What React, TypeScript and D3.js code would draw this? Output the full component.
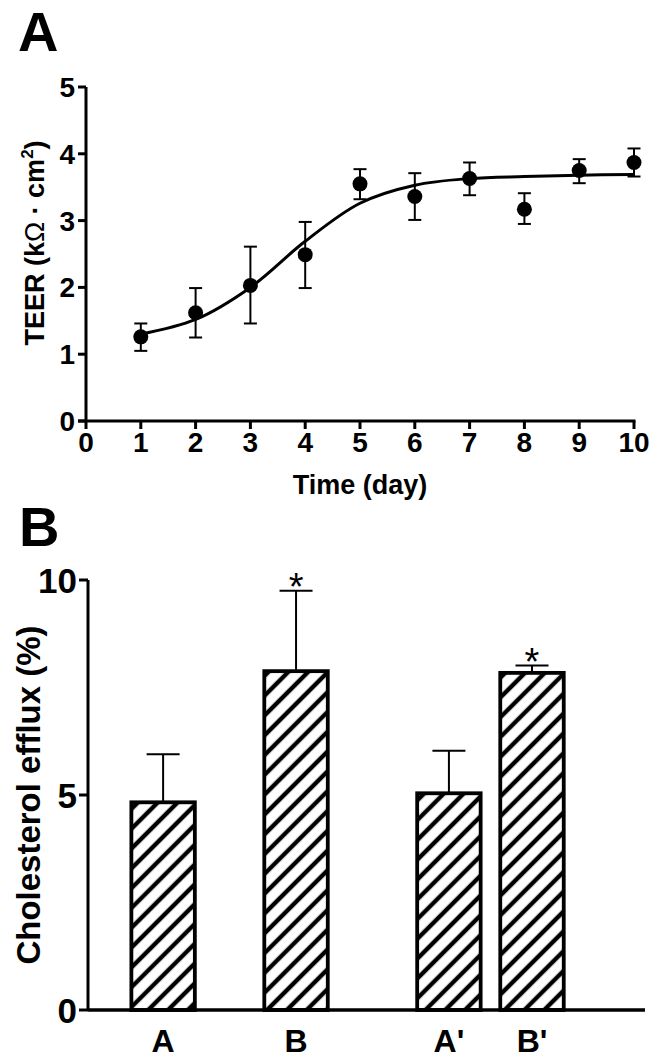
import React from "react";
import * as d3 from "d3";

// Panel A data
const days = [1, 2, 3, 4, 5, 6, 7, 8, 9, 10];
const teerMean = [1.26, 1.62, 2.03, 2.49, 3.55, 3.36, 3.63, 3.17, 3.75, 3.87];
const teerUpper = [1.46, 1.99, 2.61, 2.98, 3.77, 3.71, 3.87, 3.41, 3.92, 4.08];
const teerLower = [1.05, 1.25, 1.46, 1.99, 3.32, 3.01, 3.38, 2.95, 3.56, 3.66];
const fitValues = [1.3, 1.52, 2.0, 2.69, 3.26, 3.53, 3.63, 3.66, 3.68, 3.69];
const xTicksA = [0, 1, 2, 3, 4, 5, 6, 7, 8, 9, 10];
const yTicksA = [0, 1, 2, 3, 4, 5];

// Panel B data
const groups = ["A", "B", "A'", "B'"];
const groupPos = [1, 3, 5.3, 6.55];
const effluxMean = [4.83, 7.88, 5.04, 7.84];
const effluxErr = [1.12, 1.87, 0.99, 0.17];
const significant = [false, true, false, true];
const yTicksB = [0, 5, 10];

const FONT = "'Liberation Sans', Arial, Helvetica, sans-serif";

export default function App() {
  // Panel A scales
  const xA = d3.scaleLinear().domain([0, 10]).range([86, 634]);
  const yA = d3.scaleLinear().domain([0, 5]).range([421, 87]);
  const line = d3
    .line<number>()
    .x((_, i) => xA(days[i]))
    .y((d) => yA(d))
    .curve(d3.curveCatmullRom.alpha(0.5));

  // Panel B scales
  const xB = d3.scaleLinear().domain([-0.13, 8.25]).range([88, 645]);
  const yB = d3.scaleLinear().domain([0, 10]).range([1010, 580]);
  const barW = xB(1) - xB(0);

  const capA = 6.5;
  const capB = 16.5;

  return (
    <svg width={653} height={1060} style={{ position: "absolute", left: 0, top: 0, background: "#fff" }} fontFamily={FONT}>
      <defs>
        <pattern id="hatch" patternUnits="userSpaceOnUse" width={14} height={14} patternTransform="rotate(45)">
          <rect width={14} height={14} fill="#fff" />
          <line x1={7} y1={-2} x2={7} y2={16} stroke="#000" strokeWidth={4.4} />
        </pattern>
      </defs>

      {/* Panel A */}
      <text x={18} y={51} fontSize={56} fontWeight="bold">A</text>

      {/* y axis A */}
      <line x1={xA(0)} x2={xA(0)} y1={yA(0)} y2={yA(5)} stroke="#000" strokeWidth={3} />
      {yTicksA.map((t) => (
        <g key={"ya" + t}>
          <line x1={xA(0) - 8} x2={xA(0)} y1={yA(t)} y2={yA(t)} stroke="#000" strokeWidth={3} />
          <text x={xA(0) - 11} y={yA(t)} dy="0.36em" textAnchor="end" fontSize={28} fontWeight="bold">{t}</text>
        </g>
      ))}
      {/* x axis A */}
      <line x1={xA(0) - 8} x2={xA(10) + 1.5} y1={yA(0)} y2={yA(0)} stroke="#000" strokeWidth={3} />
      {xTicksA.map((t) => (
        <g key={"xa" + t}>
          <line x1={xA(t)} x2={xA(t)} y1={yA(0)} y2={yA(0) + 8} stroke="#000" strokeWidth={3} />
          <text x={xA(t)} y={452} textAnchor="middle" fontSize={28} fontWeight="bold">{t}</text>
        </g>
      ))}
      <text x={360} y={494} textAnchor="middle" fontSize={27} fontWeight="bold">Time (day)</text>
      <text transform={`translate(44,243) rotate(-90)`} textAnchor="middle" fontSize={27} fontWeight="bold">
        TEER (k<tspan fontWeight="normal">Ω</tspan> · cm<tspan fontSize={17} dy={-11}>2</tspan><tspan dy={11}>)</tspan>
      </text>

      {/* fit curve */}
      <path d={line(fitValues) || ""} fill="none" stroke="#000" strokeWidth={3} />
      {/* error bars and points */}
      {days.map((d, i) => (
        <g key={"pt" + d}>
          <line x1={xA(d)} x2={xA(d)} y1={yA(teerLower[i])} y2={yA(teerUpper[i])} stroke="#000" strokeWidth={2} />
          <line x1={xA(d) - capA} x2={xA(d) + capA} y1={yA(teerUpper[i])} y2={yA(teerUpper[i])} stroke="#000" strokeWidth={2} />
          <line x1={xA(d) - capA} x2={xA(d) + capA} y1={yA(teerLower[i])} y2={yA(teerLower[i])} stroke="#000" strokeWidth={2} />
          <circle cx={xA(d)} cy={yA(teerMean[i])} r={7.5} fill="#000" />
        </g>
      ))}

      {/* Panel B */}
      <text x={19} y={546} fontSize={56} fontWeight="bold">B</text>

      {/* bars */}
      {groups.map((g, i) => {
        const cx = xB(groupPos[i]);
        const top = yB(effluxMean[i]);
        const errTop = yB(effluxMean[i] + effluxErr[i]);
        return (
          <g key={"bar" + g}>
            <line x1={cx} x2={cx} y1={top} y2={errTop} stroke="#000" strokeWidth={2} />
            <line x1={cx - capB} x2={cx + capB} y1={errTop} y2={errTop} stroke="#000" strokeWidth={2} />
            <rect x={cx - barW / 2 + 1.5} y={top} width={barW - 3} height={yB(0) - top} fill="url(#hatch)" stroke="#000" strokeWidth={3.8} />
            {significant[i] && (
              <text x={cx} y={errTop + 9} textAnchor="middle" fontSize={38}>*</text>
            )}
            <text x={cx} y={1052} textAnchor="middle" fontSize={32} fontWeight="bold">{g}</text>
          </g>
        );
      })}

      {/* y axis B */}
      <line x1={xB(-0.13)} x2={xB(-0.13)} y1={yB(0)} y2={yB(10)} stroke="#000" strokeWidth={3} />
      {yTicksB.map((t) => (
        <g key={"yb" + t}>
          <line x1={xB(-0.13) - 9} x2={xB(-0.13)} y1={yB(t)} y2={yB(t)} stroke="#000" strokeWidth={3} />
          <text x={xB(-0.13) - 11} y={yB(t)} dy="0.36em" textAnchor="end" fontSize={35} fontWeight="bold">{t}</text>
        </g>
      ))}
      {/* x axis B */}
      <line x1={xB(-0.13)} x2={xB(8.25)} y1={yB(0)} y2={yB(0)} stroke="#000" strokeWidth={3.5} />
      <text transform={`translate(40,795) rotate(-90)`} textAnchor="middle" fontSize={33} fontWeight="bold">Cholesterol efflux (%)</text>
    </svg>
  );
}
